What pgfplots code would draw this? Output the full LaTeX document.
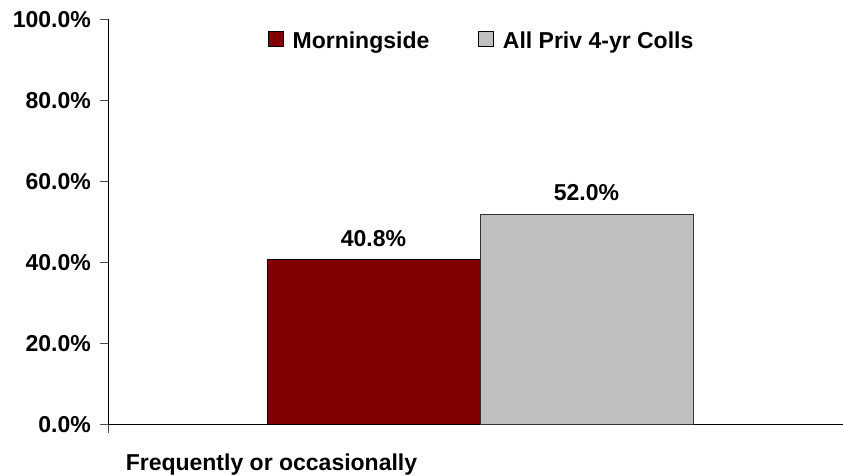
\documentclass[border=0pt]{standalone}
\usepackage{fontspec}
\setmainfont{Liberation Sans}
\usepackage{pgfplots}
\pgfplotsset{compat=1.18}
\definecolor{maroonbar}{HTML}{800000}
\definecolor{silverbar}{HTML}{C0C0C0}
\begin{document}
\fontsize{23}{27}\selectfont\bfseries
\begin{tikzpicture}
\useasboundingbox (-108pt,-51.3pt) rectangle (735pt,424.7pt);
\begin{axis}[
  at={(0,0)}, anchor=origin,
  scale only axis,
  width=735pt, height=405.5pt,
  xmin=0, xmax=735, ymin=0, ymax=100,
  axis x line*=bottom, axis y line*=left,
  axis line style={black, line width=0.8pt, -},
  ybar=0pt, bar width=213pt,
  ytick={0,20,40,60,80,100},
  yticklabels={0.0\%,20.0\%,40.0\%,60.0\%,80.0\%,100.0\%},
  xtick={0}, xticklabels={},
  tick align=outside, major tick length=8pt,
  tick style={black!70, line width=0.8pt},
  yticklabel style={inner sep=0pt, xshift=-9pt},
  /pgf/number format/assume math mode=true,
  nodes near coords={\pgfmathprintnumber[fixed,fixed zerofill,precision=1]{\pgfplotspointmeta}\%},
  every node near coord/.append style={black, yshift=5pt},
  xlabel={Frequently or occasionally},
  xlabel style={at={(axis description cs:0.2224,0)}, anchor=base, yshift=-46.3pt},
  legend columns=2,
  legend style={draw=none, at={(axis description cs:0.2177,0.944)}, anchor=west,
    inner sep=0pt, outer sep=0pt, font=\bfseries,
    /tikz/every odd column/.append style={column sep=7pt},
    /tikz/column 2/.style={column sep=47pt}},
  legend image code/.code={\draw[#1, draw=black, line width=0.6pt] (0pt,-4pt) rectangle (15pt,11pt);},
]
\addplot[fill=maroonbar, draw=black, line width=0.6pt] coordinates {(372,40.8)};
\addplot[fill=silverbar, draw=black!80, line width=0.6pt] coordinates {(372,52.0)};
\legend{Morningside, All Priv 4-yr Colls}
\end{axis}
\end{tikzpicture}
\end{document}
